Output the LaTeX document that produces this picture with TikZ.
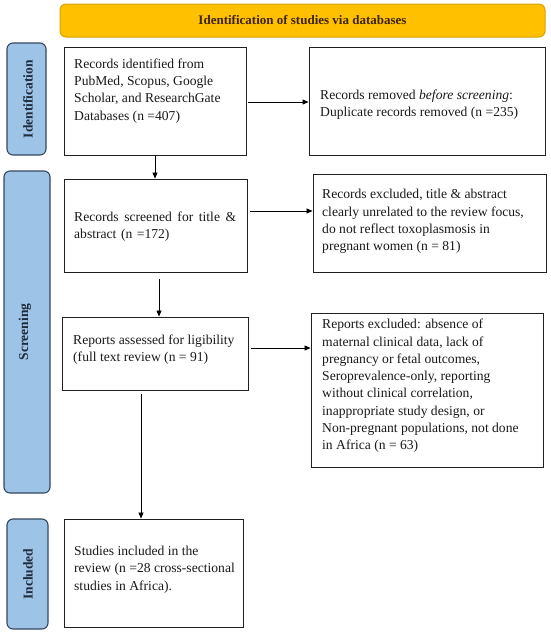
\documentclass[tikz,border=0pt]{standalone}
\usepackage{fontspec}
\setmainfont{Liberation Serif}
\usetikzlibrary{arrows.meta,calc}
\definecolor{hdrfill}{HTML}{FFC000}
\definecolor{hdrdraw}{HTML}{D9A300}
\definecolor{hdrtext}{HTML}{3D2410}
\definecolor{sidefill}{HTML}{9DC3E6}
\definecolor{sidedraw}{HTML}{33475E}
\definecolor{sidetext}{HTML}{1E2C3C}
\definecolor{boxdraw}{HTML}{202020}
\definecolor{bodytext}{HTML}{1A1A1A}
\begin{document}
\begin{tikzpicture}[x=1pt,y=-1pt,
 box/.style={draw=boxdraw, line width=0.9pt, fill=white, inner sep=0pt},
 txt/.style={anchor=west, align=left, inner sep=0pt, text=bodytext, font=\fontsize{13.6}{17.3}\selectfont},
 side/.style={draw=sidedraw, fill=sidefill, line width=1.1pt, rounded corners=6pt, inner sep=0pt},
 sidelab/.style={rotate=90, inner sep=0pt, font=\bfseries\fontsize{13.5}{14}\selectfont, text=sidetext},
 arr/.style={-{Triangle[length=6pt,width=5pt]}, line width=0.8pt, draw=black}
]
\useasboundingbox (0,0) rectangle (550,635);

% header
\node[draw=hdrdraw, fill=hdrfill, line width=1pt, rounded corners=6pt,
      minimum width=485pt, minimum height=33pt, inner sep=0pt,
      font=\bfseries\fontsize{13}{14}\selectfont, text=hdrtext]
      (hdr) at (302.5,20.5) {Identification of studies via databases};

% side bars
\node[side, minimum width=39pt, minimum height=112pt] (sid) at (26.5,99) {};
\node[sidelab] (lid) at (28,99) {Identification};
\node[side, minimum width=46pt, minimum height=322pt] (sscr) at (27,332) {};
\node[sidelab] (lscr) at (25,332) {Screening};
\node[side, minimum width=41pt, minimum height=110pt] (sinc) at (27.5,574) {};
\node[sidelab] (linc) at (28,574) {Included};

% boxes
\node[box, minimum width=182pt, minimum height=108pt] (b1) at (155,101) {};
\node[box, minimum width=236pt, minimum height=108pt] (b2) at (427,101) {};
\node[box, minimum width=183pt, minimum height=93pt] (b3) at (155.5,225.5) {};
\node[box, minimum width=233pt, minimum height=98pt] (b4) at (429.5,223) {};
\node[box, minimum width=186pt, minimum height=73pt] (b5) at (155,353.5) {};
\node[box, minimum width=232pt, minimum height=154pt] (b6) at (427,390) {};
\node[box, minimum width=179pt, minimum height=108pt] (b7) at (153.5,573) {};

% texts
\node[txt] (t1) at (74,91) {Records identified from\\PubMed, Scopus, Google\\Scholar, and ResearchGate\\Databases (n =407)};
\node[txt] (t2) at (320,104.5) {Records removed \textit{before screening}:\\Duplicate records removed (n =235)};
\node[txt, text width=162pt] (t3) at (74,226.5) {Records\hfill screened\hfill for\hfill title\hfill \&\\abstract (n =172)};
\node[txt] (t4) at (322,221.5) {Records excluded, title \& abstract\\clearly unrelated to the review focus,\\do not reflect toxoplasmosis in\\pregnant women (n = 81)};
\node[txt] (t5) at (73,350) {Reports assessed for ligibility\\(full text review (n = 91)};
\node[txt] (t6) at (322,386) {Reports excluded: absence of\\maternal clinical data, lack of\\pregnancy or fetal outcomes,\\Seroprevalence-only, reporting\\without clinical correlation,\\inappropriate study design, or\\Non-pregnant populations, not done\\in Africa (n = 63)};
\node[txt] (t7) at (74,569.5) {Studies included in the\\review (n =28 cross-sectional\\studies in Africa).};

% connectors
\coordinate (p1) at ([yshift=-1pt]b1.east);
\draw[arr] ([xshift=2pt]p1) -- (p1 -| b2.west);
\draw[arr] (b1.south) -- (b1.south |- b3.north);
\coordinate (p2) at ([yshift=14.5pt]b3.east);
\draw[arr] ([xshift=3pt]p2) -- (p2 -| b4.west);
\coordinate (p3) at ([xshift=3.5pt,yshift=-7pt]b3.south);
\draw[arr] (p3) -- (p3 |- b5.north);
\coordinate (p4) at ([yshift=5.5pt]b5.east);
\draw[arr] ([xshift=3pt]p4) -- (p4 -| b6.west);
\coordinate (p5) at ([xshift=-14pt,yshift=-4pt]b5.south);
\draw[arr] (p5) -- (p5 |- b7.north);
\end{tikzpicture}
\end{document}
